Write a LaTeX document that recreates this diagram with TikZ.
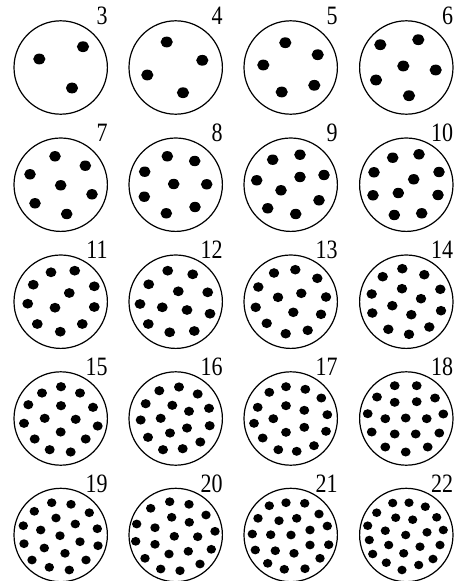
\documentclass[tikz,border=0pt]{standalone}
\usepackage{fontspec}
\setmainfont{Liberation Serif}
\tikzset{
  ring/.style={draw=black,line width=1.2pt},
  lbl/.style={anchor=base east,inner sep=0pt,font=\fontsize{26.5}{26.5}\selectfont,xscale=0.83},
}
\newcommand{\dial}[6]{%
  \draw[ring] (#1,#2) circle[radius=46.7pt];
  \node[lbl] (n#3) at (#1+47,#2-43) {#3};
  \foreach \p/\q in {#6} \fill (\p,\q) ellipse[x radius=#4pt, y radius=#5pt];
}
\begin{document}
\begin{tikzpicture}[x=1pt,y=-1pt]
\useasboundingbox (0,0) rectangle (460,581);
% row 1
\dial{60.7}{67.5}{3}{6.1}{5.4}{39.3/59, 83/46.7, 72/88}
\dial{175.7}{67.5}{4}{6.1}{5.4}{166.7/42, 202.3/60.3, 147.3/75, 183/92.7}
\dial{290.7}{67.5}{5}{6.1}{5.4}{285.3/42.7, 317.7/54.7, 263.3/65, 314.3/85.3, 281.7/92}
\dial{406.3}{67.5}{6}{6.1}{5.4}{418.3/39.7, 380.3/44.7, 403.3/66, 435.7/70, 376/80, 409/95.7}
% row 2
\dial{60.7}{184.7}{7}{5.8}{5.2}{55/156.3, 85.3/165.7, 30/174.3, 60.7/185.3, 92/194.3, 35/203.3, 66.7/214}
\dial{175.7}{184.7}{8}{5.8}{5.2}{167.3/156.3, 194.7/161, 144.7/171.7, 173.7/184, 206.7/184.3, 144.3/196.7, 195/207, 166.3/213.3}
\dial{290.7}{184.7}{9}{5.8}{5.2}{300/154.7, 272.7/159.7, 300/177, 324/175, 256.7/180.3, 281/190.3, 319/200.3, 267.7/208.3, 295.7/214}
\dial{406.3}{184.7}{10}{5.8}{5.2}{392.7/157.7, 419/154.3, 374/172.3, 439/172, 413.7/179.3, 373/195.3, 398.3/193, 438/195, 394.3/215, 421.7/213.3}
% row 3
\dial{60.7}{301.7}{11}{5.4}{4.9}{51/272.3, 74.7/270.7, 33.3/284.7, 94.3/286.3, 69.3/293, 27.7/303.7, 55/307.7, 94.3/307, 37.3/324, 82.3/324, 60.3/331.7}
\dial{175.7}{301.7}{12}{5.4}{4.9}{167.7/270.7, 192.7/274.3, 148.7/284.3, 178.3/291.3, 207.7/292.3, 140/304, 162.3/307.3, 187/310, 210/313.7, 148.3/324, 169.7/332.3, 194.3/331}
\dial{290.7}{301.7}{13}{5.2}{4.8}{295.3/269.7, 274/273, 317.3/278.3, 258.3/287, 301.3/293.3, 278/297.3, 326/297, 255.7/307.3, 293.3/312.3, 321/314.3, 266.7/323.3, 307.7/330.3, 285.7/333.7}
\dial{406.3}{301.7}{14}{5.2}{4.8}{402.3/268.7, 382.7/276.7, 424.3/274.7, 402/288.7, 440.3/289.3, 371.7/294, 421/298.7, 392.3/305.7, 372.3/313, 411.3/314.7, 441/310.7, 388.3/329.3, 409/334.3, 429.3/327}
% row 4
\dial{60.7}{418.5}{15}{5}{4.6}{61/386.7, 42/393, 80/393, 28.3/404.7, 61/405.7, 93/407.3, 44.7/418.3, 75.7/419.3, 24/423.3, 97.7/426, 60.7/432, 34.7/439, 85.7/439, 49.7/449.7, 70.7/452}
\dial{175.7}{418.5}{16}{5}{4.6}{179/387, 159.3/390.7, 197.7/394, 145.7/403.7, 172.3/405.3, 189/411.3, 209/408.3, 140.7/420, 160.7/418.3, 187/428, 209.7/425.7, 170/433, 148/437.3, 200.3/442, 163/449.7, 182.7/448.7}
\dial{290.7}{418.5}{17}{4.9}{4.5}{286/386.7, 269.3/392.3, 305.3/389.3, 321.3/398, 257.7/407.3, 286/405.7, 304.3/410.3, 327.3/414.7, 273.3/418.7, 254/423.3, 304.3/427.3, 286/432.3, 326/431.3, 262.7/438, 278.3/449.7, 296.7/451.3, 314/445.7}
\dial{406.3}{418.5}{18}{4.9}{4.5}{394.7/385.7, 416.7/385.7, 377/397, 394.7/402.3, 416.7/401.7, 435/398, 367.7/413.7, 385.3/418.7, 405.7/418, 426.7/418.7, 443.3/414, 371.7/432, 394.7/434, 415.7/434, 439.3/433, 385.3/447, 405.7/452, 427.7/447}
% row 5
\dial{60.7}{535}{19}{4.7}{4.4}{51.7/502.7, 71/504.3, 34.3/511.3, 89.3/512.7, 56/518, 23.3/525.7, 75.3/524, 40.7/530, 97.3/528.7, 60/535.7, 24/543.7, 80/541.7, 44.3/548, 98/545.7, 65/553.3, 32/560, 86/560, 49.3/567.3, 69.3/570}
\dial{175.7}{535}{20}{4.7}{4.4}{169.7/501.7, 150.7/508.3, 189/504.3, 171.7/517.3, 206/515, 136.7/524, 155/527.7, 189.3/522.3, 215/531.3, 174.3/536.3, 197.7/536.7, 135.7/541.3, 155/544.3, 211.3/549.3, 169/554, 188.3/551.3, 145/558.3, 200/564, 160.7/569, 180/570.7}
\dial{290.7}{535}{21}{4.7}{4.4}{286/502.7, 269.3/505.7, 304.7/503.3, 319/514, 258/518.3, 279/520.7, 296.7/518.3, 327.3/526, 310/530, 252.3/534, 270.7/534.7, 291/535, 328.7/544.7, 310/545, 255.3/550, 275.3/550.7, 294/553.3, 320/558.3, 267.7/563.3, 284.3/569.3, 305/568.7}
\dial{406.3}{535}{22}{4.6}{4.3}{392.7/503, 409/502.7, 376.7/512.7, 425.3/506.7, 395.7/517.7, 412.7/519.7, 436.7/517.3, 367.7/525.7, 385.3/530.7, 427/532.3, 443.3/530, 405.7/535, 369.3/540, 388.7/545, 420/546.7, 440/545, 372.7/554, 403.7/553.3, 386.3/562.7, 418.7/565, 433/559, 402/570}
\end{tikzpicture}
\end{document}
